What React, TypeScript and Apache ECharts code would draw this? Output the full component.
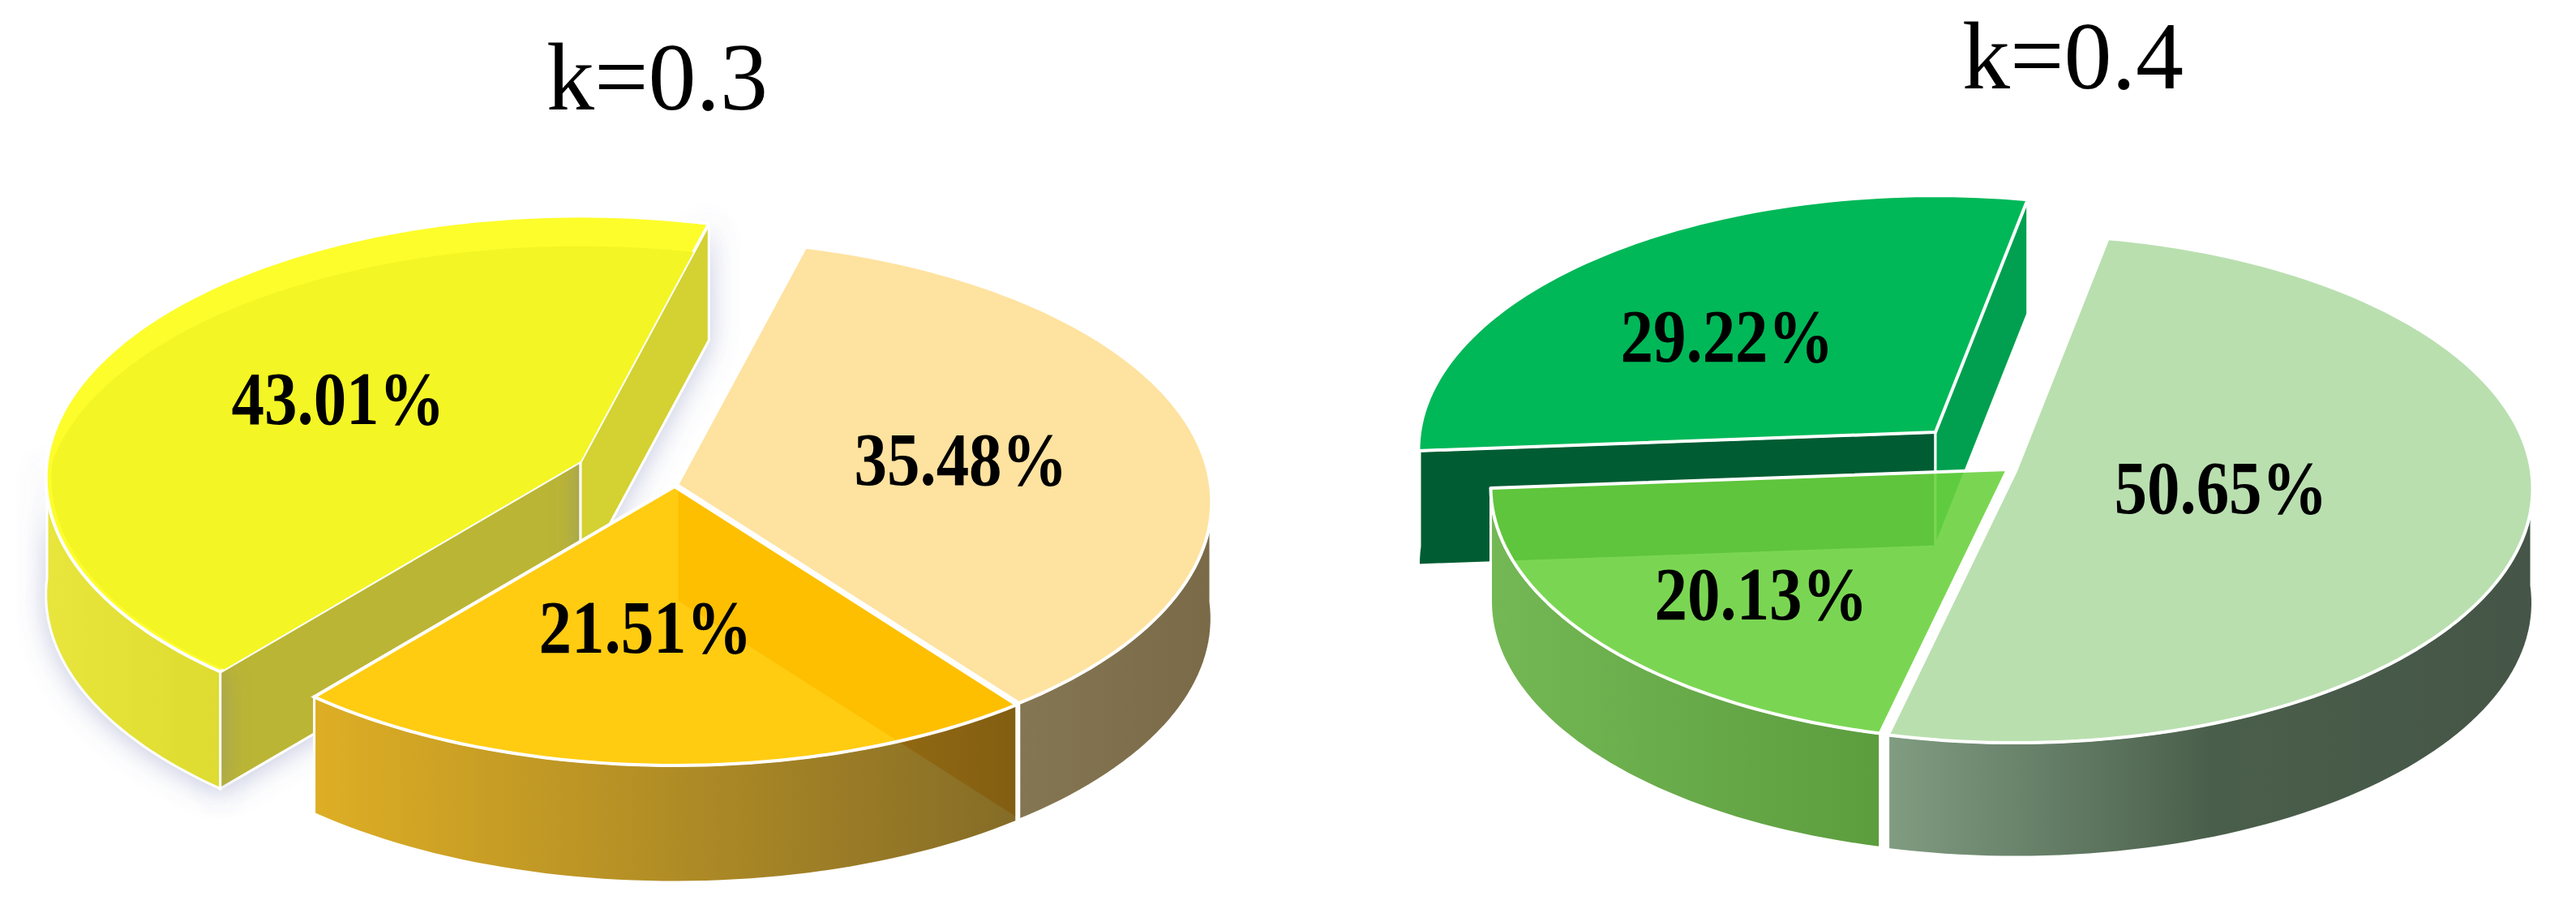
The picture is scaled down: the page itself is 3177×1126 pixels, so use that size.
import React, { useEffect, useRef } from "react";
import * as echarts from "echarts";

const titleLeft = "k=0.3";
const titleRight = "k=0.4";
// clockwise, in drawing order (back to front)
const leftValues = [43.01, 35.48, 21.51];
const rightValues = [29.22, 50.65, 20.13];

type Slice = {
  apex: [number, number];
  label: [number, number];
  top: string;
  bevel?: string;
  wall: string[];
  startWall?: string;
  endWall?: string;
  shadow?: boolean;
  maskNext?: boolean;
};
type Pie = { a: number; b: number; k: number; h: number; start: number; slices: Slice[] };

const leftPie: Pie = {
  a: 658, b: 322, k: 0.064, h: 144, start: 129.96,
  slices: [
    { apex: [716, 569], label: [417, 492], top: "#fdfd2c", bevel: "#f4f524", wall: ["#e8e53c", "#dedb30"], startWall: "#bbb534", endWall: "#d4d132", shadow: true },
    { apex: [835, 598], label: [1185, 567], top: "#fee29f", wall: ["#857653", "#7a6a48"], endWall: "#e05000", maskNext: true },
    { apex: [832, 600], label: [796, 774], top: "rgba(255,200,0,0.93)", wall: ["rgba(219,167,17,0.92)", "rgba(122,95,20,0.92)"] },
  ],
};
const rightPie: Pie = {
  a: 636, b: 312, k: 0.069, h: 141, start: 175.81,
  slices: [
    { apex: [2387, 533], label: [2130, 415], top: "#00b858", wall: ["#005c33", "#005c33"], startWall: "#005c33", endWall: "#00a050" },
    { apex: [2486, 581], label: [2739, 602], top: "#b9dfaf", wall: ["#809c81", "#4a5f4b", "#455547"] },
    { apex: [2476, 579], label: [2172, 733], top: "rgba(106,209,61,0.895)", wall: ["#74b855", "#5c9d3e"] },
  ],
};

const RAD = Math.PI / 180;

function project(p: Pie, apex: [number, number], deg: number, r = 1): [number, number] {
  const u = r * Math.cos(deg * RAD);
  const v = r * Math.sin(deg * RAD);
  const s = 1 / (1 - p.k * v);
  return [apex[0] + p.a * u * s, apex[1] + p.b * v * s];
}

function arc(p: Pie, apex: [number, number], from: number, to: number, rf?: (d: number) => number) {
  const pts: [number, number][] = [];
  const n = Math.max(2, Math.ceil(Math.abs(to - from) / 1.5));
  for (let i = 0; i <= n; i++) {
    const d = from + ((to - from) * i) / n;
    pts.push(project(p, apex, d, rf ? rf(d) : 1));
  }
  return pts;
}

function frontRange(from: number, to: number): [number, number][] {
  const out: [number, number][] = [];
  for (let t = -720; t <= 720; t += 360) {
    const lo = Math.max(from, t);
    const hi = Math.min(to, t + 180);
    if (hi > lo) out.push([lo, hi]);
  }
  return out;
}

function gradient(colors: string[]) {
  return new echarts.graphic.LinearGradient(
    0, 0, 1, 0,
    colors.map((color, i) => ({ offset: i / Math.max(1, colors.length - 1), color }))
  );
}

function wallPoints(p: Pie, apex: [number, number], lo: number, hi: number) {
  const up = arc(p, apex, lo, hi);
  const down = up.slice().reverse().map(([x, y]) => [x, y + p.h]);
  return [...up, ...down];
}

function makeSeries(p: Pie, values: number[]) {
  const total = values.reduce((a, b) => a + b, 0);
  return {
    type: "custom",
    coordinateSystem: "none",
    silent: true,
    clip: false,
    data: values.map((v) => [v]),
    renderItem: (params: any, api: any) => {
      const i = params.dataIndex;
      const value = api.value(0) as number;
      let before = 0;
      for (let j = 0; j < i; j++) before += values[j];
      const from = p.start + (before / total) * 360;
      const to = from + (value / total) * 360;
      const sl = p.slices[i];
      const apex = sl.apex;
      const children: any[] = [];
      const shadow = sl.shadow
        ? { shadowBlur: 34, shadowColor: "rgba(100,110,170,0.38)", shadowOffsetX: 0, shadowOffsetY: 4 }
        : {};
      if (sl.maskNext) {
        // the translucent slice in front must not show the walls behind it, only this slice's own wall
        const next = p.slices[i + 1];
        const nextTo = to + (values[i + 1] / total) * 360;
        children.push({
          type: "polygon",
          shape: { points: [next.apex, ...arc(p, next.apex, to, nextTo)] },
          style: { fill: "#fff", stroke: "#fff", lineWidth: 4 },
        });
        frontRange(to, nextTo).forEach(([lo, hi]) =>
          children.push({
            type: "polygon",
            shape: { points: wallPoints(p, next.apex, lo, hi) },
            style: { fill: "#fff", stroke: "#fff", lineWidth: 3 },
          })
        );
      }
      const edgeWall = (deg: number, color: string) => {
        const e = project(p, apex, deg);
        children.push({
          type: "polygon",
          shape: { points: [apex, e, [e[0], e[1] + p.h], [apex[0], apex[1] + p.h]] },
          style: { fill: color, stroke: "#fff", lineWidth: 3, ...shadow },
        });
      };
      if (sl.startWall) edgeWall(from, sl.startWall);
      if (sl.endWall) edgeWall(to, sl.endWall);
      frontRange(from, to).forEach(([lo, hi]) => {
        children.push({
          type: "polygon",
          shape: { points: wallPoints(p, apex, lo, hi) },
          style: { fill: gradient(sl.wall), stroke: "#fff", lineWidth: 3, ...shadow },
        });
      });
      children.push({
        type: "polygon",
        shape: { points: [apex, ...arc(p, apex, from, to)] },
        style: { fill: sl.top, stroke: "#fff", lineWidth: 4, lineJoin: "round" },
      });
      if (sl.bevel) {
        const rf = (d: number) => 0.99 - 0.12 * Math.max(0, -Math.sin(d * RAD));
        children.push({
          type: "polygon",
          shape: { points: [apex, ...arc(p, apex, from, to, rf)] },
          style: { fill: sl.bevel },
        });
      }
      children.push({
        type: "text",
        z2: 50,
        x: sl.label[0],
        y: sl.label[1],
        scaleY: 1.15,
        style: {
          text: `${value.toFixed(2)}%`,
          x: 0,
          y: 0,
          align: "center",
          verticalAlign: "middle",
          fontFamily: "Liberation Serif",
          fontWeight: "bold",
          fontSize: 81,
          fill: "#000",
        },
      });
      return { type: "group", children };
    },
  };
}

export default function App() {
  const ref = useRef<HTMLDivElement>(null);
  useEffect(() => {
    const chart = echarts.init(ref.current!, undefined, { renderer: "svg" });
    const titleStyle = { fontFamily: "Liberation Serif", fontWeight: "normal", fontSize: 118, color: "#000" };
    chart.setOption({
      animation: false,
      backgroundColor: "#fff",
      title: [
        { text: titleLeft, left: 674, top: 36, padding: 0, textStyle: titleStyle },
        { text: titleRight, left: 2420, top: 10, padding: 0, textStyle: titleStyle },
      ],
      series: [makeSeries(leftPie, leftValues), makeSeries(rightPie, rightValues)],
    });
    return () => chart.dispose();
  }, []);
  return <div ref={ref} style={{ position: "absolute", left: 0, top: 0, width: 3177, height: 1126 }} />;
}
